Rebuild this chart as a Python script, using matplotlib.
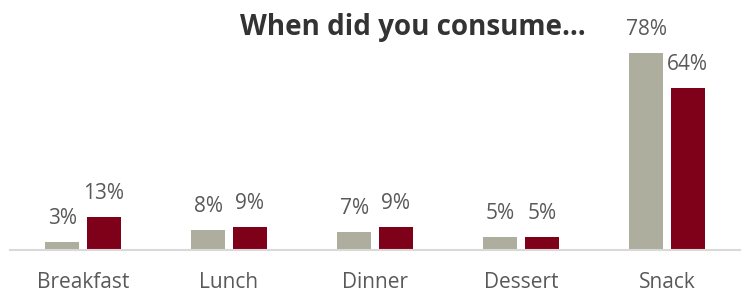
import matplotlib.pyplot as plt
import numpy as np

plt.rcParams['font.family'] = ['Open Sans', 'DejaVu Sans']

categories = ["Breakfast", "Lunch", "Dinner", "Dessert", "Snack"]
series_a = [3, 8, 7, 5, 78]
series_b = [13, 9, 9, 5, 64]

grey = "#ADAE9D"
red = "#7F0019"
text_col = "#595959"

fig = plt.figure(figsize=(7.44, 2.96), dpi=100)
ax = fig.add_axes([10 / 744, 46 / 296, 730 / 744, 250 / 296])

x = np.arange(len(categories))
w = 0.233
off = 0.142
bars_a = ax.bar(x - off, series_a, w, color=grey)
bars_b = ax.bar(x + off, series_b, w, color=red)

for bars, vals in ((bars_a, series_a), (bars_b, series_b)):
    for b, v in zip(bars, vals):
        ax.annotate(f"{v}%", (b.get_x() + b.get_width() / 2, v),
                    xytext=(0, 13), textcoords="offset points",
                    ha="center", va="baseline", fontsize=15, color=text_col)

ax.set_xlim(-0.5, len(categories) - 0.5)
ax.set_ylim(0, 98.8)
ax.set_xticks(x)
ax.set_xticklabels(categories, fontsize=15, color=text_col)
ax.tick_params(axis="x", length=0, pad=16)
ax.set_yticks([])
for s in ["top", "left", "right"]:
    ax.spines[s].set_visible(False)
ax.spines["bottom"].set_color("#D9D9D9")
ax.spines["bottom"].set_linewidth(1.5)

fig.text(413 / 744, 1 - 35 / 296, "When did you consume…", ha="center", va="baseline",
         fontsize=20, fontweight="bold", color="#333333")

fig.savefig("out.png", dpi=100)
